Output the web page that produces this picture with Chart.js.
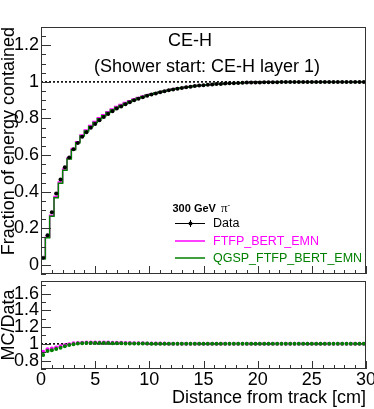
<!DOCTYPE html>
<html>
<head>
<meta charset="utf-8">
<script src="https://cdn.jsdelivr.net/npm/chart.js@4/dist/chart.umd.min.js"></script>
<style>
  body { margin: 0; background: #fff; }
  #wrap { position: relative; width: 374px; height: 409px; overflow: hidden; }
  canvas { position: absolute; left: 0; }
  #topPad { top: 0; }
  #ratioPad { top: 277px; }
</style>
</head>
<body>
<div id="wrap">
  <canvas id="topPad" width="374" height="278"></canvas>
  <canvas id="ratioPad" width="374" height="132"></canvas>
</div>
<script>
// bins of 0.4 cm from 0 to 30 cm
const binWidth = 0.4;

// fraction of energy contained, data
const dataFraction = [
  0.039, 0.162, 0.287, 0.390, 0.467, 0.533, 0.587, 0.632, 0.666, 0.700,
  0.725, 0.749, 0.770, 0.790, 0.808, 0.825, 0.840, 0.854, 0.866, 0.878,
  0.889, 0.899, 0.908, 0.916, 0.924, 0.931, 0.937, 0.943, 0.949, 0.954,
  0.959, 0.963, 0.967, 0.971, 0.974, 0.977, 0.980, 0.982, 0.984, 0.986,
  0.988, 0.989, 0.991, 0.992, 0.993, 0.994, 0.995, 0.996, 0.996, 0.997,
  0.997, 0.998, 0.998, 0.998, 0.998, 0.999, 0.999, 0.999, 0.999, 0.999,
  0.999, 1.000, 1.000, 1.000, 1.000, 1.000, 1.000, 1.000, 1.000, 1.000,
  1.000, 1.000, 1.000, 1.000, 1.000
];

// MC/Data ratios read from the lower pad
const ratioFTFP = [
  0.905, 0.935, 0.945, 0.957, 0.970, 0.984, 0.996, 1.006, 1.011, 1.014,
  1.016, 1.017, 1.017, 1.017, 1.016, 1.015, 1.014, 1.013, 1.012, 1.010,
  1.009, 1.008, 1.007, 1.006, 1.005, 1.004, 1.004, 1.003, 1.003, 1.002,
  1.002, 1.002, 1.001, 1.001, 1.001, 1.001, 1.000, 1.000, 1.000, 1.000,
  1.000, 1.000, 1.000, 1.000, 1.000, 1.000, 1.000, 1.000, 1.000, 1.000,
  1.000, 1.000, 1.000, 1.000, 1.000, 1.000, 1.000, 1.000, 1.000, 1.000,
  1.000, 1.000, 1.000, 1.000, 1.000, 1.000, 1.000, 1.000, 1.000, 1.000,
  1.000, 1.000, 1.000, 1.000, 1.000
];
const ratioQGSP = [
  0.867, 0.916, 0.924, 0.939, 0.954, 0.970, 0.985, 0.996, 1.003, 1.007,
  1.009, 1.010, 1.010, 1.010, 1.009, 1.009, 1.008, 1.007, 1.006, 1.005,
  1.005, 1.004, 1.004, 1.003, 1.003, 1.002, 1.002, 1.002, 1.001, 1.001,
  1.001, 1.001, 1.001, 1.000, 1.000, 1.000, 1.000, 1.000, 1.000, 1.000,
  1.000, 1.000, 1.000, 1.000, 1.000, 1.000, 1.000, 1.000, 1.000, 1.000,
  1.000, 1.000, 1.000, 1.000, 1.000, 1.000, 1.000, 1.000, 1.000, 1.000,
  1.000, 1.000, 1.000, 1.000, 1.000, 1.000, 1.000, 1.000, 1.000, 1.000,
  1.000, 1.000, 1.000, 1.000, 1.000
];

const xTicks = [0, 5, 10, 15, 20, 25, 30];
const topYTicks = [0, 0.2, 0.4, 0.6, 0.8, 1, 1.2];
const ratioYTicks = [0.8, 1, 1.2, 1.4, 1.6];

const MAGENTA = '#ff00ff';
const GREEN = '#008000';
const FONT = "'Liberation Sans', Arial, Helvetica, sans-serif";
Chart.defaults.font.family = FONT;
Chart.defaults.color = '#000';

const binCenters = dataFraction.map((_, i) => (i + 0.5) * binWidth);

// histogram points at low bin edges, closed by the last high edge
function histPoints(values) {
  const pts = values.map((v, i) => ({ x: i * binWidth, y: v }));
  pts.push({ x: values.length * binWidth, y: values[values.length - 1] });
  return pts;
}
const mcFTFP = dataFraction.map((v, i) => v * ratioFTFP[i]);
const mcQGSP = dataFraction.map((v, i) => v * ratioQGSP[i]);

function fmtTick(v) { return String(+Number(v).toFixed(1)); }

function fixedScale(size, vertical) {
  return function (s) {
    if (vertical) s.width = size; else s.height = size;
    s.paddingTop = 0; s.paddingBottom = 0;
    s.paddingLeft = 0; s.paddingRight = 0;
  };
}

// ROOT-like frame, inward ticks and dotted line at 1
function padPlugin(cfg) {
  return {
    id: 'pad_' + cfg.name,
    beforeDatasetsDraw(chart) {
      const { ctx, chartArea: a, scales: { y } } = chart;
      const py = y.getPixelForValue(1);
      ctx.save();
      ctx.strokeStyle = '#000';
      ctx.lineWidth = 1.6;
      ctx.setLineDash([2, 2]);
      ctx.beginPath();
      ctx.moveTo(a.left, py);
      ctx.lineTo(a.right, py);
      ctx.stroke();
      ctx.restore();
    },
    afterDraw(chart) {
      const { ctx, chartArea: a, scales: { x, y } } = chart;
      ctx.save();
      ctx.strokeStyle = '#333';
      ctx.lineWidth = 1;
      ctx.beginPath();
      for (let k = Math.ceil(y.min / cfg.yMinor - 1e-6); k * cfg.yMinor <= y.max + 1e-9; k++) {
        const v = k * cfg.yMinor;
        const major = Math.abs(v / cfg.yMajor - Math.round(v / cfg.yMajor)) < 1e-6;
        const py = Math.round(y.getPixelForValue(v)) + 0.5;
        ctx.moveTo(a.left, py);
        ctx.lineTo(a.left + (major ? cfg.yMajorLen : cfg.yMinorLen), py);
      }
      for (let v = 0; v <= 30; v += 1) {
        const major = v % 5 === 0;
        const px = Math.round(x.getPixelForValue(v)) + 0.5;
        ctx.moveTo(px, a.bottom);
        ctx.lineTo(px, a.bottom - (major ? cfg.xMajorLen : cfg.xMinorLen));
      }
      ctx.stroke();
      ctx.strokeRect(Math.round(a.left) + 0.5, Math.round(a.top) + 0.5,
        Math.round(a.right - a.left) - 1, Math.round(a.bottom - a.top) - 1);
      ctx.restore();
    }
  };
}

// texts and legend of the upper pad
const topTexts = {
  id: 'topTexts',
  afterDraw(chart) {
    const ctx = chart.ctx;
    ctx.save();
    ctx.fillStyle = '#000';
    ctx.textBaseline = 'alphabetic';
    ctx.font = '18px ' + FONT;
    ctx.fillText('CE-H', 168, 46);
    ctx.fillText('(Shower start: CE-H layer 1)', 94, 72);

    ctx.font = 'bold 11px ' + FONT;
    ctx.fillText('300 GeV', 172.5, 212);
    const w = ctx.measureText('300 GeV ').width;
    ctx.font = "13px 'Liberation Serif', 'DejaVu Serif', serif";
    ctx.fillText('\u03c0', 172.5 + w + 2, 212);
    const wp = ctx.measureText('\u03c0').width;
    ctx.font = '8px ' + FONT;
    ctx.fillText('-', 172.5 + w + 2 + wp, 207);

    const rows = [
      { label: 'Data', color: '#000', y: 223.5, marker: true },
      { label: 'FTFP_BERT_EMN', color: MAGENTA, y: 241 },
      { label: 'QGSP_FTFP_BERT_EMN', color: GREEN, y: 258 }
    ];
    ctx.font = '12.5px ' + FONT;
    ctx.textBaseline = 'middle';
    rows.forEach(r => {
      ctx.strokeStyle = r.color;
      ctx.lineWidth = r.marker ? 1 : 1.5;
      ctx.beginPath();
      ctx.moveTo(175, r.y);
      ctx.lineTo(205, r.y);
      if (r.marker) {
        ctx.moveTo(190.5, r.y - 3.5);
        ctx.lineTo(190.5, r.y + 3.5);
      }
      ctx.stroke();
      if (r.marker) {
        ctx.fillStyle = '#000';
        ctx.beginPath();
        ctx.arc(190.5, r.y, 2, 0, Math.PI * 2);
        ctx.fill();
      }
      ctx.fillStyle = r.color;
      ctx.fillText(r.label, 213, r.y + 0.5);
    });
    ctx.restore();
  }
};

// datasets listed first are drawn on top
new Chart(document.getElementById('topPad'), {
  type: 'line',
  data: {
    datasets: [
      {
        data: binCenters.map((x, i) => ({ x, y: dataFraction[i] })),
        showLine: false, pointRadius: 2, pointBackgroundColor: '#000', pointBorderWidth: 0
      },
      { data: histPoints(mcQGSP), borderColor: GREEN, borderWidth: 1.5, stepped: 'before', pointRadius: 0, fill: false },
      { data: histPoints(mcFTFP), borderColor: MAGENTA, borderWidth: 1.5, stepped: 'before', pointRadius: 0, fill: false }
    ]
  },
  options: {
    responsive: false,
    animation: false,
    layout: { padding: { top: 27, right: 8, bottom: 1, left: 0 } },
    plugins: { legend: { display: false }, tooltip: { enabled: false } },
    scales: {
      x: { type: 'linear', min: 0, max: 30, display: false },
      y: {
        type: 'linear', min: -0.05, max: 1.3,
        afterFit: fixedScale(41, true),
        afterBuildTicks: s => { s.ticks = topYTicks.map(v => ({ value: v })); },
        grid: { display: false, drawTicks: false },
        border: { display: false },
        ticks: { font: { size: 18 }, color: '#000', padding: 2, autoSkip: false, callback: fmtTick },
        title: {
          display: true, text: 'Fraction of energy contained', align: 'end',
          font: { size: 18, lineHeight: 1 }, padding: 0, color: '#000'
        }
      }
    }
  },
  plugins: [padPlugin({ name: 'top', yMajor: 0.2, yMinor: 0.05, yMajorLen: 10, yMinorLen: 5, xMajorLen: 8, xMinorLen: 4 }), topTexts]
});

new Chart(document.getElementById('ratioPad'), {
  type: 'line',
  data: {
    datasets: [
      {
        data: binCenters.map((x, i) => ({ x, y: ratioQGSP[i] })),
        showLine: false, pointRadius: 2, pointBackgroundColor: GREEN, pointBorderWidth: 0
      },
      {
        data: binCenters.map((x, i) => ({ x, y: ratioFTFP[i] })),
        showLine: false, pointRadius: 2, pointBackgroundColor: MAGENTA, pointBorderWidth: 0
      }
    ]
  },
  options: {
    responsive: false,
    animation: false,
    layout: { padding: { top: 0, right: 8, bottom: 0, left: 0 } },
    plugins: { legend: { display: false }, tooltip: { enabled: false } },
    scales: {
      x: {
        type: 'linear', min: 0, max: 30,
        afterFit: fixedScale(40, false),
        afterBuildTicks: s => { s.ticks = xTicks.map(v => ({ value: v })); },
        grid: { display: false, drawTicks: false },
        border: { display: false },
        ticks: { font: { size: 18 }, color: '#000', padding: 0, maxRotation: 0, autoSkip: false, callback: fmtTick },
        title: {
          display: true, text: 'Distance from track [cm]', align: 'end',
          font: { size: 18, lineHeight: 1 }, padding: { top: 0, bottom: 2 }, color: '#000'
        }
      },
      y: {
        type: 'linear', min: 0.7, max: 1.75,
        afterFit: fixedScale(41, true),
        afterBuildTicks: s => { s.ticks = ratioYTicks.map(v => ({ value: v })); },
        grid: { display: false, drawTicks: false },
        border: { display: false },
        ticks: { font: { size: 18, lineHeight: 1 }, color: '#000', padding: 2, autoSkip: false, callback: fmtTick },
        title: {
          display: true, text: 'MC/Data', align: 'center',
          font: { size: 18, lineHeight: 1 }, padding: 0, color: '#000'
        }
      }
    }
  },
  plugins: [padPlugin({ name: 'ratio', yMajor: 0.2, yMinor: 0.1, yMajorLen: 10, yMinorLen: 5, xMajorLen: 8, xMinorLen: 4 })]
});
</script>
</body>
</html>
